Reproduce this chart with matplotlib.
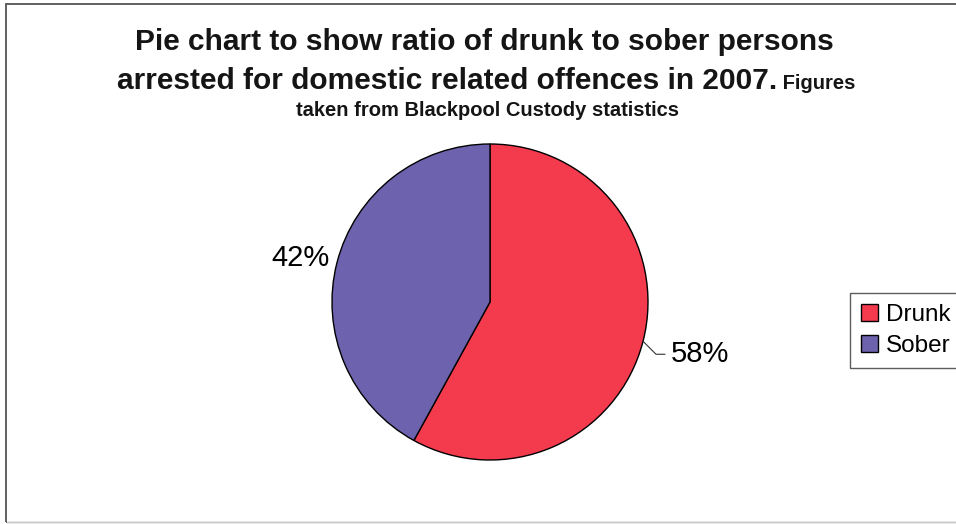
import matplotlib
matplotlib.use("Agg")
import matplotlib.pyplot as plt
from matplotlib.patches import Rectangle
import numpy as np

plt.rcParams['font.family'] = ['Liberation Sans', 'DejaVu Sans']

# data
labels = ['Drunk', 'Sober']
shares = [58, 42]
colours = ['#F43A4D', '#6D62AE']

title_big_1 = 'Pie chart to show ratio of drunk to sober persons'
title_big_2 = 'arrested for domestic related offences in 2007.'
title_small_2 = ' Figures'
title_small_3 = 'taken from Blackpool Custody statistics'

W, H = 956, 524
fig = plt.figure(figsize=(W / 100, H / 100), dpi=100)

# outer chart frame (right side runs off the page, bottom edge is faint)
fig.patches.append(Rectangle((6 / W, 2 / H), 1.2, 1 - 6 / H, transform=fig.transFigure,
                             fill=False, edgecolor='#555555', linewidth=1.3))
fig.patches.append(Rectangle((7 / W, 0), 1.2, 3 / H, transform=fig.transFigure,
                             facecolor='white', edgecolor='none'))
fig.patches.append(Rectangle((7 / W, 2 / H), 1.2, 0, transform=fig.transFigure,
                             fill=False, edgecolor='#c8c8c8', linewidth=1.0))

# pie axes, centre ~ (490, 302), radius ~158 px
R = 158
ax = fig.add_axes([(490 - R) / W, (H - 302 - R) / H, 2 * R / W, 2 * R / H])
wedges, _ = ax.pie(shares, colors=colours, startangle=90, counterclock=False,
                   wedgeprops=dict(edgecolor='black', linewidth=1.0))
ax.set_xlim(-1, 1)
ax.set_ylim(-1, 1)
ax.set_aspect('equal')
ax.axis('off')

# percentage labels
for w, v in zip(wedges, shares):
    ang = np.deg2rad((w.theta1 + w.theta2) / 2)
    x, y = np.cos(ang), np.sin(ang)
    if x > 0:
        # leader line like the Excel label
        ax.annotate(f'{v}%', xy=(x, y), xytext=(x * 1.18, y * 1.33),
                    fontsize=21, ha='left', va='center', annotation_clip=False,
                    arrowprops=dict(arrowstyle='-', color='#333333', lw=0.8,
                                    connectionstyle='angle,angleA=0,angleB=-45,rad=0',
                                    shrinkA=2, shrinkB=0))
    else:
        ax.text(x * 1.24, y * 1.13, f'{v}%', fontsize=21, ha='center', va='center')

# title
fig.text(484 / W, 1 - 42 / H, title_big_1, fontsize=21.5, fontweight='bold',
         ha='center', va='center', color='#151515')
fig.canvas.draw()
r = fig.canvas.get_renderer()
t_big = fig.text(0, 1 - 89 / H, title_big_2, fontsize=21.5, fontweight='bold',
                 ha='left', va='baseline', color='#151515')
t_small = fig.text(0, 1 - 89 / H, title_small_2, fontsize=14.5, fontweight='bold',
                   ha='left', va='baseline', color='#151515')
wb = t_big.get_window_extent(r).width
ws = t_small.get_window_extent(r).width
x0 = 486 - (wb + ws) / 2
t_big.set_x(x0 / W)
t_small.set_x((x0 + wb) / W)
fig.text(487 / W, 1 - 110 / H, title_small_3, fontsize=14.5, fontweight='bold',
         ha='center', va='center', color='#151515')

# legend
leg = fig.legend(wedges, labels, loc='upper left', bbox_to_anchor=(850 / W, 1 - 293 / H),
                 fontsize=17.5, frameon=True, fancybox=False, edgecolor='#333333',
                 handlelength=0.72, handleheight=0.72, handletextpad=0.3,
                 borderpad=0.45, labelspacing=0.35, borderaxespad=0)
leg.get_frame().set_linewidth(1.0)

fig.savefig('out.png', dpi=100)
